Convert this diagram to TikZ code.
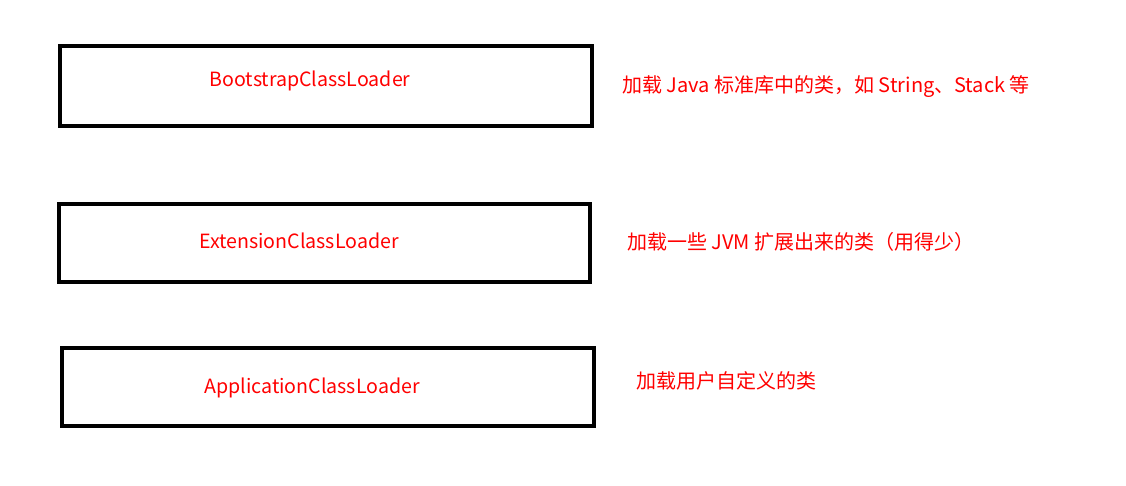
\documentclass[tikz,border=0pt]{standalone}
\usepackage{fontspec}
\setmainfont{Noto Sans CJK SC}
\begin{document}
\begin{tikzpicture}[x=1pt,y=-1pt,
  box/.style={draw=black,line width=4pt},
  lbl/.style={text=red,font=\fontsize{19.6}{22}\selectfont,inner sep=0pt},
  note/.style={text=red,font=\fontsize{20}{22}\selectfont,inner sep=0pt,anchor=west}]
\useasboundingbox (0,0) rectangle (1126,485);
\draw[box] (60,46) rectangle (592,126);
\draw[box] (59,204) rectangle (590,282);
\draw[box] (62,348) rectangle (594,426);
\node[lbl] (b) at (310,81) {BootstrapClassLoader};
\node[lbl] (e) at (299,241) {ExtensionClassLoader};
\node[lbl] (a) at (312,388) {ApplicationClassLoader};
\node[note] (n1) at (622,87) {加载 Java 标准库中的类，如 String、Stack 等};
\node[note] (n2) at (627,242) {加载一些 JVM 扩展出来的类（用得少）};
\node[note] (n3) at (636,381) {加载用户自定义的类};
\end{tikzpicture}
\end{document}
